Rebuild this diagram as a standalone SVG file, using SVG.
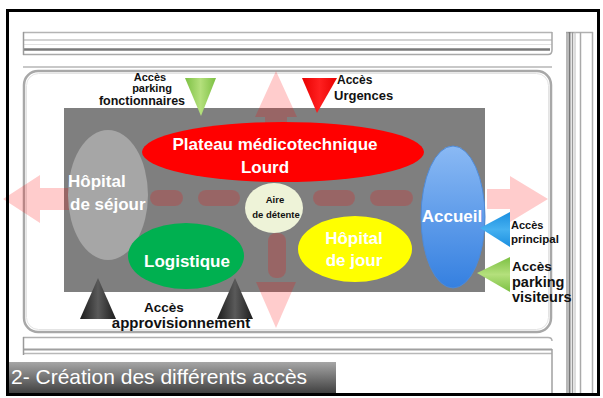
<svg xmlns="http://www.w3.org/2000/svg" width="603" height="398" viewBox="0 0 603 398">
<defs>
<style>
.rd{fill:none;stroke-linecap:butt}
.wl{font-family:"Liberation Sans",Arial,sans-serif;font-weight:bold;font-size:17px;fill:#ffffff}
.bl{font-family:"Liberation Sans",Arial,sans-serif;font-weight:bold;fill:#111111}
.pk{fill:#ff0000;fill-opacity:0.2}
.dash{fill:#ff0000;fill-opacity:0.2}
</style>
<linearGradient id="gGreen" x1="0" y1="0" x2="1" y2="0">
<stop offset="0" stop-color="#7cc043"/><stop offset="0.5" stop-color="#b4e07c"/><stop offset="1" stop-color="#7cc043"/>
</linearGradient>
<linearGradient id="gGreenR" x1="0" y1="0" x2="0" y2="1">
<stop offset="0" stop-color="#7cc043"/><stop offset="0.5" stop-color="#b4e07c"/><stop offset="1" stop-color="#7cc043"/>
</linearGradient>
<linearGradient id="gRed" x1="0" y1="0" x2="1" y2="0">
<stop offset="0" stop-color="#e80000"/><stop offset="0.5" stop-color="#ff2020"/><stop offset="1" stop-color="#e80000"/>
</linearGradient>
<linearGradient id="gBlue" x1="0" y1="0" x2="0" y2="1">
<stop offset="0" stop-color="#1b8fe0"/><stop offset="0.5" stop-color="#45b0f0"/><stop offset="1" stop-color="#1b8fe0"/>
</linearGradient>
<linearGradient id="gBlack" x1="0" y1="0" x2="1" y2="0">
<stop offset="0" stop-color="#1c1c1c"/><stop offset="0.5" stop-color="#5a5a5a"/><stop offset="1" stop-color="#1c1c1c"/>
</linearGradient>
<linearGradient id="gAcc" x1="0" y1="0" x2="0" y2="1">
<stop offset="0" stop-color="#8ab9f4"/><stop offset="1" stop-color="#3580e0"/>
</linearGradient>
<linearGradient id="gTitle" x1="0" y1="0" x2="0" y2="1">
<stop offset="0" stop-color="#a6a6a6"/><stop offset="1" stop-color="#3e3e3e"/>
</linearGradient>
</defs>
<rect x="0" y="0" width="603" height="398" fill="#ffffff"/>

<g id="roads">
<line class="rd" x1="23" y1="32.5" x2="552" y2="32.5" stroke="#b4b4b4" stroke-width="1.5"/>
<line class="rd" x1="23" y1="40" x2="552" y2="40" stroke="#c4c4c4" stroke-width="1.5"/>
<line class="rd" x1="23" y1="44.5" x2="552" y2="44.5" stroke="#e2e2e2" stroke-width="1"/>
<line class="rd" x1="23" y1="49.5" x2="550" y2="49.5" stroke="#7a7a7a" stroke-width="2.5"/>
<path class="rd" d="M23,54.5 H548 Q552,54.5 552,50 V32" stroke="#a8a8a8" stroke-width="1.5"/>
<line class="rd" x1="23.5" y1="32" x2="23.5" y2="55" stroke="#9a9a9a" stroke-width="1.5"/>
<line class="rd" x1="23" y1="67" x2="552" y2="67" stroke="#c8c8c8" stroke-width="2"/>
<rect class="rd" x="24" y="71" width="527" height="261" rx="14" stroke="#a8a8a8" stroke-width="2.5"/>
<rect class="rd" x="26.5" y="73.5" width="522" height="256" rx="12" stroke="#e4e4e4" stroke-width="1"/>
<path class="rd" d="M23,337.5 H548 Q552,337.5 552,341" stroke="#b0b0b0" stroke-width="1.5"/>
<line class="rd" x1="23" y1="349.5" x2="552" y2="349.5" stroke="#a0a0a0" stroke-width="2"/>
<line class="rd" x1="23" y1="353.5" x2="552" y2="353.5" stroke="#b8b8b8" stroke-width="1.5"/>
<line class="rd" x1="23.5" y1="337" x2="23.5" y2="355" stroke="#9a9a9a" stroke-width="1.5"/>
<line class="rd" x1="552" y1="349" x2="552" y2="394" stroke="#a0a0a0" stroke-width="1.5"/>
<line class="rd" x1="566" y1="32.5" x2="593" y2="32.5" stroke="#b0b0b0" stroke-width="1.5"/>
<line class="rd" x1="567" y1="32" x2="567" y2="394" stroke="#a0a0a0" stroke-width="1.5"/>
<line class="rd" x1="569.5" y1="32" x2="569.5" y2="394" stroke="#777777" stroke-width="2"/>
<line class="rd" x1="572.5" y1="32" x2="572.5" y2="394" stroke="#999999" stroke-width="1.5"/>
<line class="rd" x1="575" y1="32" x2="575" y2="394" stroke="#bbbbbb" stroke-width="1"/>
<line class="rd" x1="580.5" y1="32" x2="580.5" y2="394" stroke="#aaaaaa" stroke-width="1.5"/>
<line class="rd" x1="592.5" y1="32" x2="592.5" y2="394" stroke="#b0b0b0" stroke-width="1.5"/>
</g>

<g id="site">
<rect x="64" y="108" width="421" height="184" fill="#7f7f7f"/>
</g>

<g id="connectors">
<rect class="dash" x="150" y="190" width="33" height="16" rx="8"/>
<rect class="dash" x="198" y="190" width="42" height="16" rx="8"/>
<rect class="dash" x="313" y="190" width="42" height="16" rx="8"/>
<rect class="dash" x="370" y="190" width="43" height="16" rx="8"/>
<rect class="dash" x="268" y="233" width="18" height="45" rx="8"/>
<polygon class="pk" points="3,199 40,175 40,188 72,188 72,210 40,210 40,223"/>
<polygon class="pk" points="487,189 510,189 510,176 548,199 510,222 510,209 487,209"/>
<polygon class="pk" points="276,71 297,117 287,117 287,124 265,124 265,117 255,117"/>
<polygon class="pk" points="276,328 296,282 256,282"/>
</g>

<g id="plateau">
<ellipse cx="283" cy="152" rx="141" ry="30" fill="#ff0000"/>
<text class="wl" x="275" y="150" text-anchor="middle">Plateau médicotechnique</text>
<text class="wl" x="265" y="173" text-anchor="middle">Lourd</text>
</g>

<g id="hopital-sejour">
<ellipse cx="108" cy="195" rx="40" ry="65" fill="#a6a6a6"/>
<text class="wl" x="68" y="187">Hôpital</text>
<text class="wl" x="70" y="210">de séjour</text>
</g>

<g id="aire-detente">
<ellipse cx="274" cy="208" rx="29" ry="25" fill="#eef3d8"/>
<text class="bl" x="275" y="203" text-anchor="middle" font-size="9.5">Aire</text>
<text class="bl" x="276" y="218" text-anchor="middle" font-size="9.5">de détente</text>
</g>

<g id="logistique">
<ellipse cx="186" cy="256" rx="58" ry="33" fill="#00b050"/>
<text class="wl" x="187" y="267" text-anchor="middle">Logistique</text>
</g>

<g id="hopital-jour">
<ellipse cx="355" cy="249" rx="57" ry="33" fill="#ffff00"/>
<text class="wl" x="354" y="244" text-anchor="middle">Hôpital</text>
<text class="wl" x="354" y="266" text-anchor="middle">de jour</text>
</g>

<g id="accueil">
<ellipse cx="453" cy="217" rx="32" ry="71" fill="url(#gAcc)" stroke="#4f8ad6" stroke-width="1"/>
<text class="wl" x="452" y="222" text-anchor="middle">Accueil</text>
</g>

<g id="acces-fonctionnaires">
<polygon points="185,78 216,78 201,116" fill="url(#gGreen)"/>
<text class="bl" x="150" y="81" text-anchor="middle" font-size="11">Accès</text>
<text class="bl" x="152" y="92" text-anchor="middle" font-size="11">parking</text>
<text class="bl" x="142" y="105" text-anchor="middle" font-size="12.5">fonctionnaires</text>
</g>

<g id="acces-urgences">
<polygon points="302,78 337,78 317,113" fill="url(#gRed)"/>
<text class="bl" x="337" y="84" font-size="12">Accès</text>
<text class="bl" x="334" y="100" font-size="13">Urgences</text>
</g>

<g id="acces-principal">
<polygon points="480,228 510,212 510,247" fill="url(#gBlue)"/>
<text class="bl" x="511" y="229" font-size="11">Accès</text>
<text class="bl" x="511" y="242.5" font-size="11.5">principal</text>
</g>

<g id="acces-visiteurs">
<polygon points="477,273 510,257 510,292" fill="url(#gGreenR)"/>
<text class="bl" x="512" y="271" font-size="13.5">Accès</text>
<text class="bl" x="512" y="287" font-size="14.5">parking</text>
<text class="bl" x="512" y="302" font-size="14.5">visiteurs</text>
</g>

<g id="acces-approvisionnement">
<polygon points="98,278 80,319 116,319" fill="url(#gBlack)"/>
<polygon points="235,278 217,319 253,319" fill="url(#gBlack)"/>
<text class="bl" x="164" y="312" text-anchor="middle" font-size="13.5">Accès</text>
<text class="bl" x="181" y="328" text-anchor="middle" font-size="15">approvisionnement</text>
</g>

<g id="title">
<rect x="9" y="362" width="327" height="32" fill="url(#gTitle)"/>
<text x="11" y="384" font-family="'Liberation Sans',Arial,sans-serif" font-size="21" fill="#ffffff">2- Création des différents accès</text>
</g>

<rect x="7.5" y="10.5" width="591" height="384" fill="none" stroke="#000000" stroke-width="3"/>
</svg>
